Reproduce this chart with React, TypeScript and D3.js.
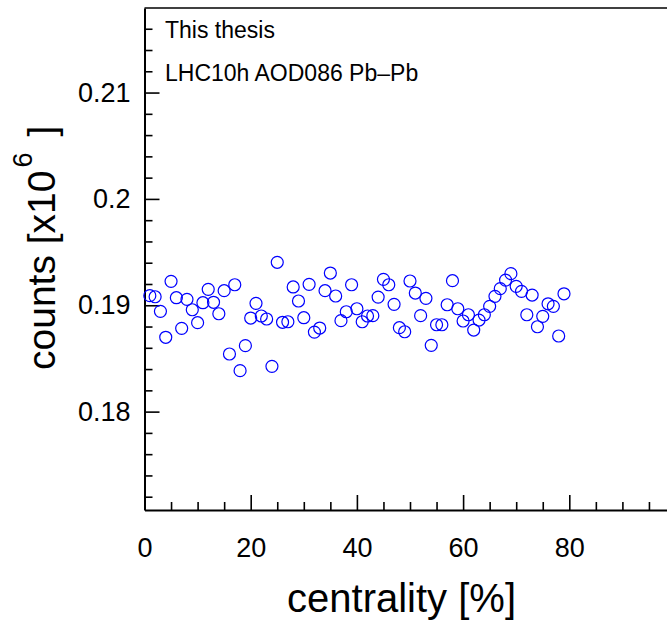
import React, { useRef, useEffect } from 'react';
import * as d3 from 'd3';

// bin centres (centrality %) and counts in units of 10^6
const centrality = [
  1, 2, 3, 4, 5, 6, 7, 8, 9, 10, 11, 12, 13, 14, 15, 16, 17, 18, 19, 20,
  21, 22, 23, 24, 25, 26, 27, 28, 29, 30, 31, 32, 33, 34, 35, 36, 37, 38, 39, 40,
  41, 42, 43, 44, 45, 46, 47, 48, 49, 50, 51, 52, 53, 54, 55, 56, 57, 58, 59, 60,
  61, 62, 63, 64, 65, 66, 67, 68, 69, 70, 71, 72, 73, 74, 75, 76, 77, 78, 79,
];
const counts = [
  0.19090, 0.19080, 0.18943, 0.18699, 0.19225, 0.19071, 0.18783, 0.19056, 0.18958, 0.18836,
  0.19024, 0.19150, 0.19028, 0.18920, 0.19137, 0.18542, 0.19193, 0.18385, 0.18620, 0.18880,
  0.19018, 0.18899, 0.18871, 0.18426, 0.19404, 0.18840, 0.18845, 0.19172, 0.19040, 0.18883,
  0.19197, 0.18748, 0.18786, 0.19137, 0.19303, 0.19087, 0.18855, 0.18939, 0.19193, 0.18967,
  0.18845, 0.18899, 0.18902, 0.19077, 0.19244, 0.19193, 0.19009, 0.18789, 0.18751, 0.19228,
  0.19115, 0.18902, 0.19065, 0.18623, 0.18817, 0.18817, 0.19005, 0.19231, 0.18967, 0.18852,
  0.18911, 0.18767, 0.18861, 0.18911, 0.18990, 0.19084, 0.19156, 0.19237, 0.19297, 0.19178,
  0.19131, 0.18911, 0.19096, 0.18798, 0.18896, 0.19014, 0.18990, 0.18711, 0.19108,
];

const xMajor = [0, 20, 40, 60, 80, 100];
const xMinor = [5, 10, 15, 25, 30, 35, 45, 50, 55, 65, 70, 75, 85, 90, 95];
const yMajor = [0.18, 0.19, 0.2, 0.21];
const yMajorLabels = ['0.18', '0.19', '0.2', '0.21'];
const yMinor = [0.172, 0.174, 0.176, 0.178, 0.182, 0.184, 0.186, 0.188, 0.192, 0.194, 0.196, 0.198,
  0.202, 0.204, 0.206, 0.208, 0.212, 0.214, 0.216];
const notes = ['This thesis', 'LHC10h AOD086 Pb\u2013Pb'];

const FONT = '"Liberation Sans", Arial, Helvetica, sans-serif';

const App = () => {
  const svgRef = useRef(null);

  useEffect(() => {
    const width = 667;
    const height = 626;
    const svg = d3.select(svgRef.current);
    svg.selectAll('*').remove();
    svg.attr('width', width).attr('height', height).attr('viewBox', `0 0 ${width} ${height}`);

    // frame: x axis runs past the right edge of the picture
    const x = d3.scaleLinear().domain([0, 100]).range([144.5, 675.5]);
    const y = d3.scaleLinear().domain([0.17075, 0.21795]).range([510, 8]);

    svg.append('rect').attr('width', width).attr('height', height).attr('fill', '#fff');

    // top frame line
    svg.append('line')
      .attr('x1', x(0)).attr('x2', x(100)).attr('y1', y.range()[1]).attr('y2', y.range()[1])
      .attr('stroke', '#000').attr('stroke-width', 1.5);

    // bottom axis, ticks pointing inside
    const gx = svg.append('g').attr('transform', `translate(0,${y.range()[0]})`);
    gx.call(d3.axisBottom(x).tickValues(xMajor).tickSize(-15).tickSizeOuter(0).tickPadding(28)
      .tickFormat(d => (d === 100 ? '' : String(d))));
    gx.append('g').call(d3.axisBottom(x).tickValues(xMinor).tickSize(-8).tickSizeOuter(0).tickFormat(() => ''))
      .select('.domain').remove();

    // left axis
    const gy = svg.append('g').attr('transform', `translate(${x(0)},0)`);
    gy.call(d3.axisLeft(y).tickValues(yMajor).tickSize(-15).tickSizeOuter(0).tickPadding(14)
      .tickFormat((d, i) => yMajorLabels[i]));
    gy.append('g').call(d3.axisLeft(y).tickValues(yMinor).tickSize(-8).tickSizeOuter(0).tickFormat(() => ''))
      .select('.domain').remove();

    [gx, gy].forEach(g => {
      g.selectAll('.domain').attr('stroke', '#000').attr('stroke-width', 2);
      g.selectAll('.tick line').attr('stroke', '#000').attr('stroke-width', 1.6);
      g.selectAll('text').attr('font-family', FONT).attr('font-size', 27).attr('fill', '#000');
    });

    // data points: open blue circles
    svg.append('g')
      .selectAll('circle')
      .data(centrality)
      .join('circle')
      .attr('cx', d => x(d))
      .attr('cy', (d, i) => y(counts[i]))
      .attr('r', 6)
      .attr('fill', 'none')
      .attr('stroke', '#0000ff')
      .attr('stroke-width', 1.2);

    // annotations
    svg.append('g')
      .selectAll('text')
      .data(notes)
      .join('text')
      .attr('x', 165)
      .attr('y', (d, i) => 38 + i * 42.5)
      .attr('font-family', FONT)
      .attr('font-size', 23)
      .text(d => d);

    // x title
    svg.append('text')
      .attr('x', 516).attr('y', 612)
      .attr('text-anchor', 'end')
      .attr('font-family', FONT).attr('font-size', 40)
      .text('centrality [%]');

    // y title with exponent
    const yt = svg.append('text')
      .attr('transform', 'translate(55,370) rotate(-90)')
      .attr('font-family', FONT).attr('font-size', 39);
    yt.append('tspan').text('counts [x10');
    yt.append('tspan').attr('font-size', 27).attr('dy', -23).attr('dx', 3).text('6');
    yt.append('tspan').attr('dy', 23).attr('dx', 16).text(']');
  }, []);

  return (
    <div>
      <style>{'body{margin:0;}'}</style>
      <svg ref={svgRef} style={{ display: 'block' }}></svg>
    </div>
  );
};

export default App;
